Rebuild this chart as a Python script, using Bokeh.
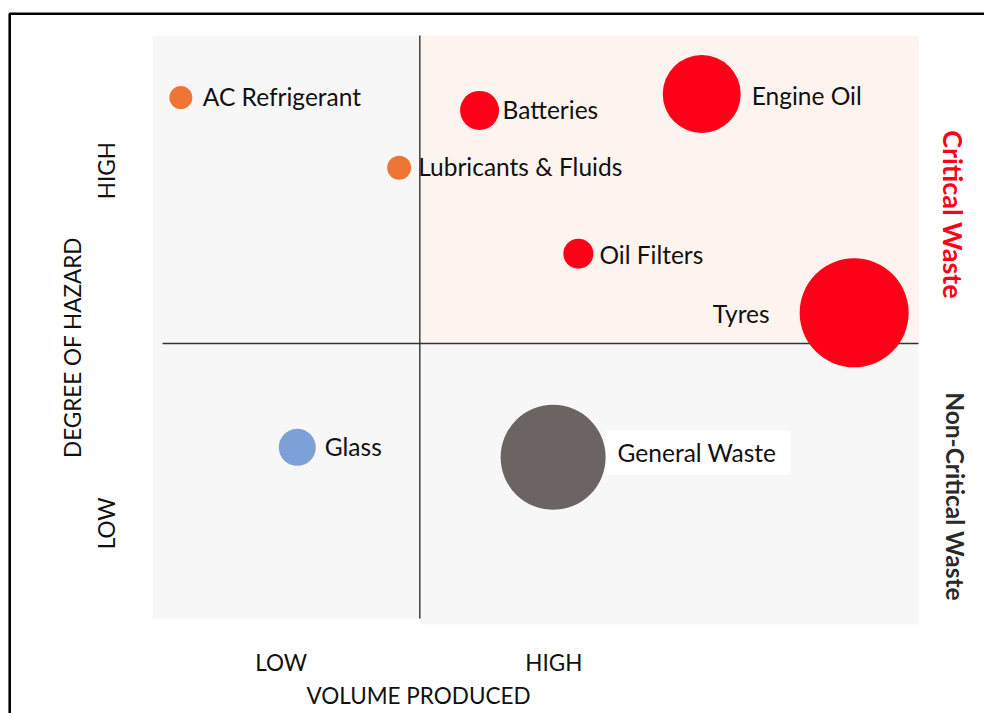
import math
from bokeh.plotting import figure
from bokeh.models import ColumnDataSource, Range1d
from bokeh.core.properties import value
from bokeh.embed import file_html
from bokeh.resources import INLINE

# ---------------- data ----------------
waste_types = ["AC Refrigerant", "Batteries", "Engine Oil", "Lubricants & Fluids",
               "Oil Filters", "Tyres", "General Waste", "Glass"]
volume_produced = [0.37, 4.27, 7.17, 3.22, 5.56, 9.16, 5.23, 1.89]
degree_of_hazard = [8.94, 8.72, 9.00, 7.74, 6.27, 5.26, 2.79, 2.96]
bubble_size = [23, 39, 78, 24, 30, 109, 105, 37]
bubble_color = ["#EE7533", "#FF0019", "#FF0019", "#EE7533",
                "#FF0019", "#FF0019", "#6C6463", "#7DA0D8"]

x_tick_labels = ["LOW", "HIGH"]
x_tick_positions = [1.68, 5.24]
y_tick_labels = ["LOW", "HIGH"]
y_tick_positions = [1.66, 7.69]
x_title = "VOLUME PRODUCED"
y_title = "DEGREE OF HAZARD"
zone_labels = ["Critical Waste", "Non-Critical Waste"]
zone_colors = ["#FF0019", "#2A2A2A"]
volume_split = 3.49
hazard_split = 4.735

# ---------------- layout helpers (reference pixel -> data) ----------------
XU, YU = 76.6, 58.5
def dx(px):
    return (px - 152) / XU
def dy(py):
    return (620 - py) / YU

W, H = 984, 713
p = figure(width=W, height=H, output_backend="svg", toolbar_location=None,
           x_range=Range1d(dx(0), dx(W)), y_range=Range1d(dy(H), dy(0)),
           x_axis_location=None, y_axis_location=None, min_border=0,
           tools="")
p.grid.visible = False
p.outline_line_color = None
p.background_fill_color = "white"
p.border_fill_color = "white"

# outer frame
p.quad(left=[dx(9.2)], right=[dx(1200)], top=[dy(13.2)], bottom=[dy(900)],
       fill_color=None, line_color="black", line_width=2.6)

# quadrant backgrounds
p.quad(left=[0], right=[volume_split], bottom=[dy(618)], top=[10],
       fill_color="#F7F7F7", line_color=None)
p.quad(left=[volume_split], right=[10], bottom=[dy(624)], top=[hazard_split],
       fill_color="#F7F7F7", line_color=None)
p.quad(left=[volume_split], right=[10], bottom=[hazard_split], top=[10],
       fill_color="#FDF4EF", line_color=None)

# quadrant lines
p.line(x=[volume_split, volume_split], y=[dy(618), 10], line_color="#333333", line_width=1.4)
p.line(x=[dx(162), 10], y=[hazard_split, hazard_split], line_color="#333333", line_width=1.4)

# white box behind General Waste label
p.quad(left=[dx(605)], right=[dx(790)], top=[dy(430)], bottom=[dy(474)],
       fill_color="white", line_color=None)

FONT = value("Lato")

src = ColumnDataSource(dict(
    x=volume_produced, y=degree_of_hazard, size=bubble_size, color=bubble_color,
    name=waste_types,
    xo=[22, 23, 50, 19, 21, -141.5, 64.5, 27.5],
    yo=[-1, -0.5, 1, -1, 0.5, 1, -5, -0.5],
))
p.scatter(x="x", y="y", size="size", fill_color="color", line_color=None, source=src)
p.text(x="x", y="y", text="name", x_offset="xo", y_offset="yo", source=src,
       text_font=FONT, text_font_size=value("24.5px"), text_color="#111111",
       text_align="left", text_baseline="middle")

# axis tick labels
p.text(x=x_tick_positions, y=[dy(662)] * 2, text=x_tick_labels,
       text_font=FONT, text_font_size=value("22.5px"), text_color="#111111",
       text_align="center", text_baseline="middle")
p.text(x=[dx(106)] * 2, y=y_tick_positions, text=y_tick_labels, angle=math.pi / 2,
       text_font=FONT, text_font_size=value("22.5px"), text_color="#111111",
       text_align="center", text_baseline="middle")
# axis titles
p.text(x=[dx(418)], y=[dy(695)], text=[x_title],
       text_font=FONT, text_font_size=value("22.5px"), text_color="#111111",
       text_align="center", text_baseline="middle")
p.text(x=[dx(72)], y=[dy(347)], text=[y_title], angle=math.pi / 2,
       text_font=FONT, text_font_size=value("22.5px"), text_color="#111111",
       text_align="center", text_baseline="middle")
# zone labels
p.text(x=[dx(953)], y=[dy(214)], text=[zone_labels[0]], angle=-math.pi / 2,
       text_font=FONT, text_font_size=value("27px"), text_font_style="bold",
       text_color=zone_colors[0], text_align="center", text_baseline="middle")
p.text(x=[dx(955)], y=[dy(496)], text=[zone_labels[1]], angle=-math.pi / 2,
       text_font=FONT, text_font_size=value("24.5px"), text_font_style="bold",
       text_color=zone_colors[1], text_align="center", text_baseline="middle")

open("out.html", "w").write(file_html(p, INLINE))
